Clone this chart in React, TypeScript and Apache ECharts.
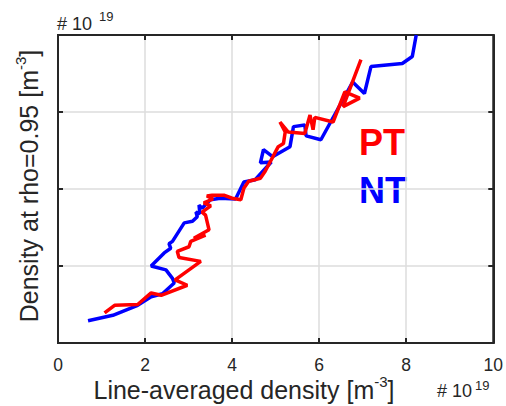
import React, { useEffect, useRef } from "react";
import * as echarts from "echarts";

const xTicks = [0, 2, 4, 6, 8, 10];
const xRange = [0, 10];
const yRange = [0, 4];

// NT (blue) : [line-averaged density, density at rho=0.95], units 1e19 m^-3
const ntData: number[][] = [
  [0.69, 0.29], [1.26, 0.36], [1.83, 0.49], [2.14, 0.6], [2.4, 0.64],
  [2.67, 0.78], [2.63, 0.84], [2.48, 0.95], [2.14, 1.0], [2.44, 1.17],
  [2.59, 1.23], [2.55, 1.29], [2.63, 1.32], [2.9, 1.56], [3.09, 1.58],
  [3.2, 1.64], [3.17, 1.7], [3.26, 1.68], [3.24, 1.79], [3.31, 1.75],
  [3.5, 1.86], [3.73, 1.88], [4.08, 1.87], [4.27, 2.09], [4.53, 2.12],
  [4.9, 2.35], [4.65, 2.34], [4.72, 2.51], [4.93, 2.42], [5.33, 2.55],
  [5.41, 2.81], [5.67, 2.83], [5.7, 2.69], [6.04, 2.64], [6.77, 3.39],
  [7.04, 3.24], [7.19, 3.59], [7.91, 3.63], [8.14, 3.72], [8.23, 4.0],
];

// PT (red)
const ptData: number[][] = [
  [1.07, 0.39], [1.3, 0.49], [1.83, 0.5], [2.14, 0.65], [2.37, 0.62],
  [2.97, 0.75], [2.69, 0.82], [3.28, 1.06], [2.78, 1.11], [2.74, 1.19],
  [3.01, 1.25], [3.05, 1.32], [3.39, 1.4], [3.12, 1.36], [3.47, 1.47],
  [3.39, 1.66], [3.31, 1.7], [3.51, 1.78], [3.35, 1.82], [3.56, 1.87],
  [3.42, 1.91], [3.54, 1.92], [3.81, 1.92], [4.0, 1.88], [4.2, 1.86],
  [4.27, 2.01], [4.38, 2.1], [4.65, 2.14], [4.76, 2.23], [5.06, 2.55],
  [5.18, 2.59], [5.22, 2.74], [5.1, 2.87], [5.29, 2.74], [5.67, 2.72],
  [5.79, 2.96], [5.86, 2.77], [5.9, 2.93], [6.32, 2.87], [6.59, 3.26],
  [6.93, 3.18], [6.55, 3.07], [6.96, 3.68],
];

const FONT = "'Liberation Sans', Arial, Helvetica, sans-serif";
const DARK = "#262626";

export default function App() {
  const ref = useRef<HTMLDivElement>(null);
  useEffect(() => {
    if (!ref.current) return;
    const chart = echarts.init(ref.current, undefined, { renderer: "svg" });
    const mkAxisLine = () => ({ show: true, onZero: false, lineStyle: { color: DARK, width: 2 } });
    const mkTick = () => ({ show: true, inside: true, length: 5, lineStyle: { color: DARK, width: 2 } });
    const rich = {
      a: { fontSize: 25, fill: DARK, fontFamily: FONT, lineHeight: 28, verticalAlign: "bottom" },
      s: { fontSize: 15, fill: DARK, fontFamily: FONT, lineHeight: 28, verticalAlign: "top" },
    };
    chart.setOption({
      animation: false,
      backgroundColor: "#ffffff",
      grid: {
        left: 58, top: 35, width: 438, height: 308,
        show: true, borderColor: DARK, borderWidth: 2, backgroundColor: "transparent",
      },
      xAxis: [
        {
          type: "value", position: "bottom", min: xRange[0], max: xRange[1], interval: 2,
          axisLine: mkAxisLine(), axisTick: mkTick(),
          axisLabel: { show: true, fontSize: 17.5, color: DARK, fontFamily: FONT, margin: 13 },
          splitLine: { show: true, lineStyle: { color: "#dcdcdc", width: 1.5 } },
        },
        {
          type: "value", position: "top", min: xRange[0], max: xRange[1], interval: 2,
          axisLine: mkAxisLine(), axisTick: mkTick(),
          axisLabel: { show: false },
          splitLine: { show: false },
        },
      ],
      yAxis: [
        {
          type: "value", position: "left", min: yRange[0], max: yRange[1], interval: 1,
          axisLine: mkAxisLine(), axisTick: mkTick(),
          axisLabel: { show: false },
          splitLine: { show: true, lineStyle: { color: "#dcdcdc", width: 1.5 } },
        },
        {
          type: "value", position: "right", min: yRange[0], max: yRange[1], interval: 1,
          axisLine: mkAxisLine(), axisTick: mkTick(),
          axisLabel: { show: false },
          splitLine: { show: false },
        },
      ],
      series: [
        {
          type: "line", name: "NT", data: ntData, xAxisIndex: 0, yAxisIndex: 0,
          showSymbol: false, symbol: "none", lineStyle: { color: "#0000ff", width: 3.5 },
          itemStyle: { color: "#0000ff" }, clip: true,
        },
        {
          type: "line", name: "PT", data: ptData, xAxisIndex: 0, yAxisIndex: 0,
          showSymbol: false, symbol: "none", lineStyle: { color: "#ff0000", width: 3.5 },
          itemStyle: { color: "#ff0000" }, clip: true,
        },
      ],
      graphic: [
        {
          type: "text", x: 359, y: 142,
          style: { text: "PT", fill: "#ff0000", fontSize: 36, fontWeight: "bold", fontFamily: FONT, textAlign: "left", textVerticalAlign: "middle" },
        },
        {
          type: "text", x: 359, y: 190,
          style: { text: "NT", fill: "#0000ff", fontSize: 36, fontWeight: "bold", fontFamily: FONT, textAlign: "left", textVerticalAlign: "middle" },
        },
        {
          type: "text", x: 244, y: 388,
          style: {
            text: "{a|Line-averaged density [m}{s|-3}{a|]}",
            rich,
            textAlign: "center", textVerticalAlign: "middle",
          },
        },
        {
          type: "text", x: 27, y: 186, rotation: Math.PI / 2,
          style: {
            text: "{a|Density at rho=0.95 [m}{s|-3}{a|]}",
            rich,
            textAlign: "center", textVerticalAlign: "middle",
          },
        },
        {
          type: "text", x: 57, y: 24,
          style: { text: "# 10", fill: DARK, fontSize: 18, fontFamily: FONT, textAlign: "left", textVerticalAlign: "middle" },
        },
        {
          type: "text", x: 99, y: 16,
          style: { text: "19", fill: DARK, fontSize: 13, fontFamily: FONT, textAlign: "left", textVerticalAlign: "middle" },
        },
        {
          type: "text", x: 437, y: 391,
          style: { text: "# 10", fill: DARK, fontSize: 18, fontFamily: FONT, textAlign: "left", textVerticalAlign: "middle" },
        },
        {
          type: "text", x: 475, y: 385,
          style: { text: "19", fill: DARK, fontSize: 13, fontFamily: FONT, textAlign: "left", textVerticalAlign: "middle" },
        },
      ],
    });
    return () => chart.dispose();
  }, []);
  return (
    <div
      ref={ref}
      style={{ position: "fixed", left: 0, top: 0, width: 506, height: 406, background: "#fff" }}
    />
  );
}
